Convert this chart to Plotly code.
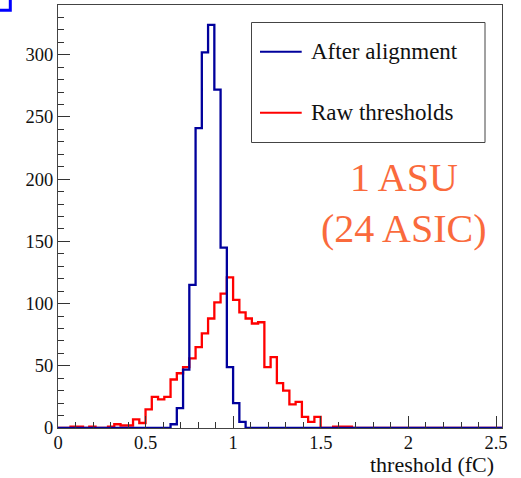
import numpy as np
import plotly.graph_objects as go

# Histogram binning (fC)
n_bins = 71
x_max = 2.534

# Counts per bin, after threshold alignment
after_alignment = [0] * 18 + [3, 16, 47, 115, 241, 302, 324, 272, 145, 49, 20, 5] + [0] * 41

# Counts per bin, raw thresholds
raw_thresholds = [
    0, 0, 1, 1, 0, 1, 0, 0, 1, 3,
    2, 2, 7, 4, 15, 25, 23, 25, 39, 44,
    49, 56, 65, 76, 88, 101, 108, 121, 103, 93,
    88, 84, 85, 49, 57, 36, 30, 19, 21, 9,
    5, 9, 0, 0, 1, 1, 1,
] + [0] * 24

x_ticks = [0, 0.5, 1, 1.5, 2, 2.5]
x_tick_text = ["0", "0.5", "1", "1.5", "2", "2.5"]
y_ticks = [0, 50, 100, 150, 200, 250, 300]

series_names = ["After alignment", "Raw thresholds"]
series_colors = ["#00009c", "#ff0000"]
note_lines = ["1 ASU", "(24 ASIC)"]
x_title = "threshold (fC)"

edges = np.linspace(0.0, x_max, n_bins + 1)

FONT = "'Liberation Serif'"

# plot-area geometry in pixels
W, H = 521, 478
L, R, T, B = 58, 19, 5, 50
PW, PH = W - L - R, H - T - B


def px(x):
    return (x - L) / PW


def py(y):
    return (H - B - y) / PH


def steps(counts):
    c = list(counts)
    return edges, c + [c[-1]]


fig = go.Figure()
for counts, color, name in [
    (raw_thresholds, series_colors[1], series_names[1]),
    (after_alignment, series_colors[0], series_names[0]),
]:
    xs, ys = steps(counts)
    fig.add_trace(go.Scatter(
        x=xs, y=ys, mode="lines", line_shape="hv", name=name,
        line=dict(color=color, width=2.3), showlegend=False,
        hoverinfo="skip",
    ))

axis_common = dict(
    showline=True, mirror=True, linecolor="#444", linewidth=1,
    ticks="inside", tickcolor="#333", ticklen=12, tickwidth=1,
    showgrid=False, zeroline=False,
    tickfont=dict(family=FONT, size=18.5, color="#111"),
)

fig.update_xaxes(
    range=[0, x_max], tickvals=x_ticks, ticktext=x_tick_text,
    ticklabelstandoff=-2,
    minor=dict(dtick=0.1, ticks="inside", ticklen=6, tickcolor="#333", showgrid=False),
    **axis_common,
)
fig.update_yaxes(
    range=[0, 340], tickvals=y_ticks,
    minor=dict(dtick=10, ticks="inside", ticklen=6, tickcolor="#333", showgrid=False),
    **axis_common,
)

shapes = []
annotations = []

# legend box
shapes.append(dict(type="rect", xref="paper", yref="paper",
                   x0=px(251.5), x1=px(485), y0=py(142.5), y1=py(22.5),
                   line=dict(color="#444", width=1), fillcolor="white", layer="above"))
for yy, name, color in [(51.7, series_names[0], series_colors[0]),
                        (112.7, series_names[1], series_colors[1])]:
    shapes.append(dict(type="line", xref="paper", yref="paper",
                       x0=px(260), x1=px(301.7), y0=py(yy), y1=py(yy),
                       line=dict(color=color, width=2), layer="above"))
    annotations.append(dict(xref="paper", yref="paper", x=px(309), y=py(yy),
                            xanchor="left", yanchor="middle", showarrow=False,
                            text=name, font=dict(family=FONT, size=23, color="#111")))

# corner marker
shapes.append(dict(type="path", xref="paper", yref="paper",
                   path=f"M {px(-5)},{py(10.3)} L {px(10.3)},{py(10.3)} L {px(10.3)},{py(-5)}",
                   line=dict(color="#0000ff", width=3), layer="above"))

# annotation text
for yy, txt in zip([177, 228], note_lines):
    annotations.append(dict(xref="paper", yref="paper", x=px(404), y=py(yy),
                            xanchor="center", yanchor="middle", showarrow=False,
                            text=txt, font=dict(family=FONT, size=40, color="#fa6a3c")))

# x-axis title, right aligned
annotations.append(dict(xref="paper", yref="paper", x=px(496), y=py(464.5),
                        xanchor="right", yanchor="middle", showarrow=False,
                        text=x_title, font=dict(family=FONT, size=22, color="#111")))

fig.update_layout(
    width=W, height=H,
    margin=dict(l=L, r=R, t=T, b=B),
    paper_bgcolor="white", plot_bgcolor="white",
    shapes=shapes, annotations=annotations,
    showlegend=False,
)

fig.write_html("out.html")
